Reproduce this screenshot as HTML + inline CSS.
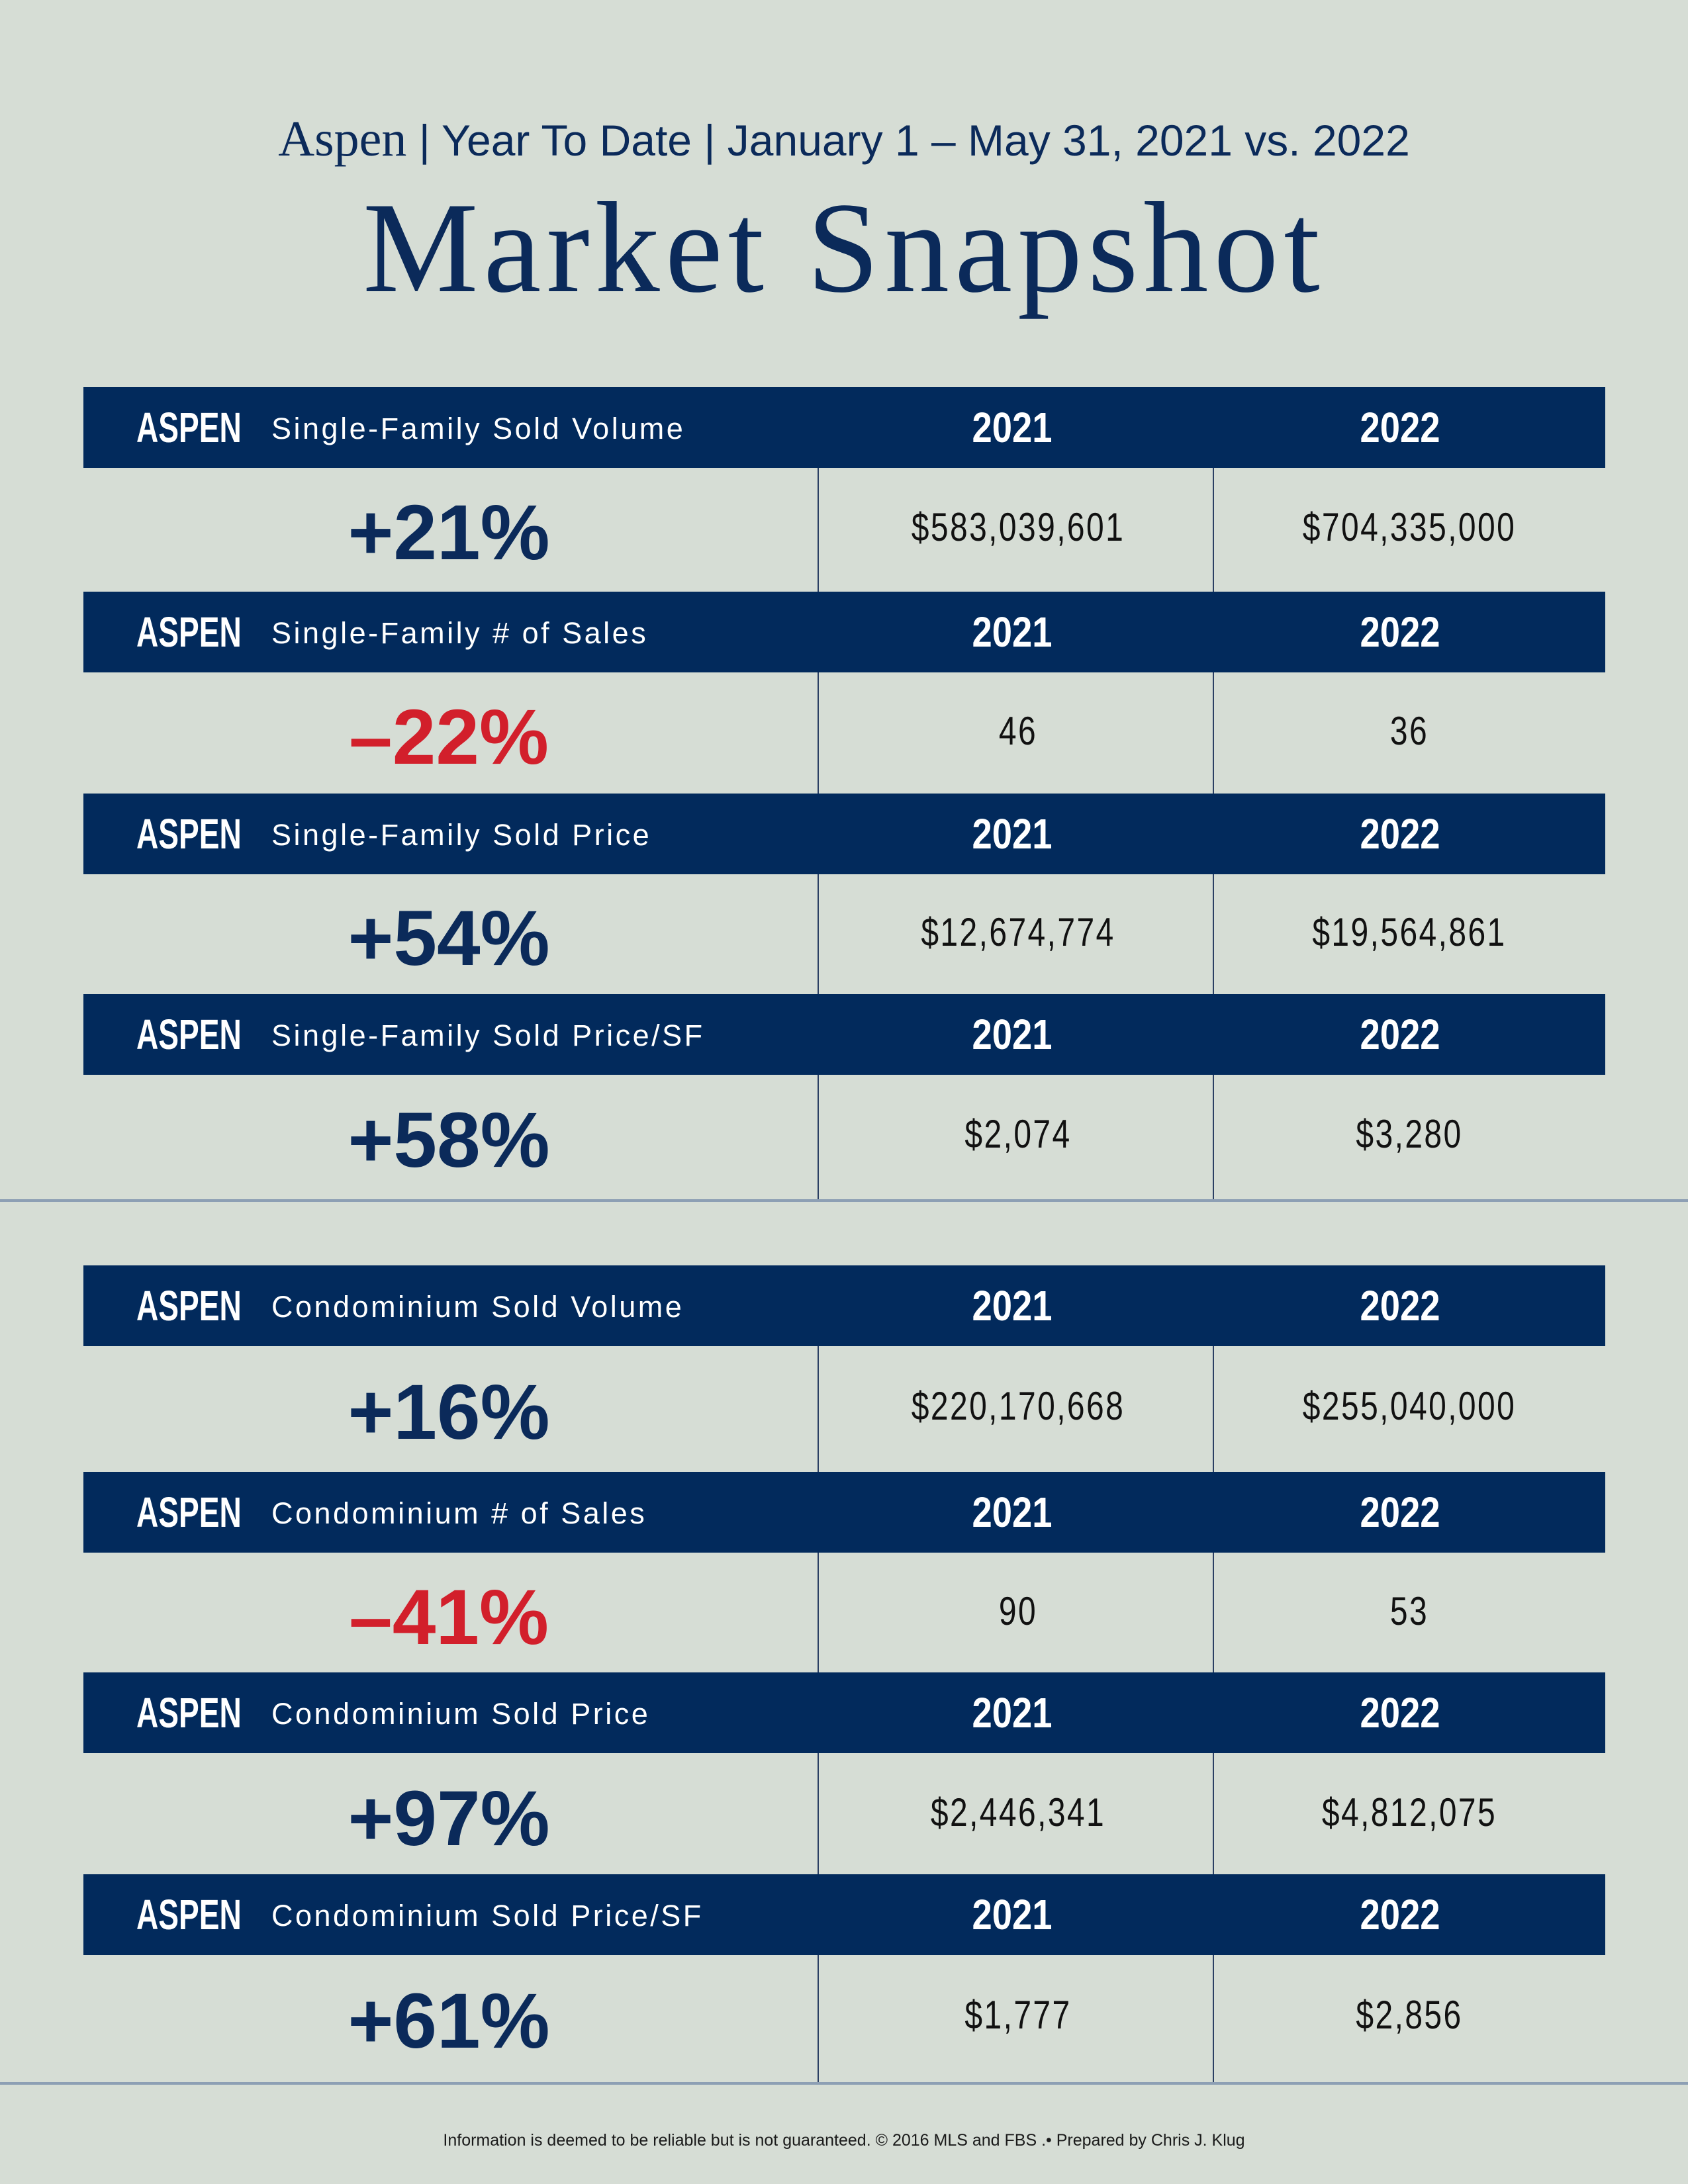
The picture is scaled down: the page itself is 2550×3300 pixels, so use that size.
<!DOCTYPE html>
<html><head><meta charset="utf-8"><style>
*{margin:0;padding:0;box-sizing:border-box}
body{width:2550px;height:3300px;background:#d6ddd5;position:relative;overflow:hidden;font-family:"Liberation Sans",sans-serif;color:#0b2a5a}
.a{position:absolute;white-space:nowrap}
.hdr{position:absolute;left:126px;width:2299px;height:122px;background:#022a5c}
.hdr .asp{position:absolute;left:80px;top:0;line-height:122px;font-weight:bold;font-size:64px;color:#fff;transform:scaleX(0.72);transform-origin:left center}
.hdr .lbl{position:absolute;left:284px;top:2px;line-height:122px;font-size:45px;letter-spacing:3.5px;color:#fff}
.hdr .y{position:absolute;top:0;line-height:122px;width:400px;text-align:center;font-weight:bold;font-size:64px;color:#fff;transform:scaleX(0.85)}
.pct{position:absolute;width:400px;text-align:center;font-weight:bold;font-size:118px;color:#0b2a5a}
.red{color:#d21f2b}
.v{position:absolute;width:560px;text-align:center;font-size:60px;letter-spacing:3px;color:#111;transform:scaleX(0.8)}
.vl{position:absolute;width:2px;background:#2b3f63}
.hl{position:absolute;left:0;width:2550px;height:4px;background:#8d9fb4}
</style></head><body>
<div class="a" style="left:0;width:2550px;text-align:center;top:168px;font-size:66px;line-height:84px;color:#0b2a5a"><span style="font-family:'Liberation Serif',serif;font-size:76px">Aspen</span> | Year To Date | January 1 – May 31, 2021 vs. 2022</div>
<div class="a" style="left:0;width:2550px;text-align:center;top:265px;font-family:'Liberation Serif',serif;font-size:196px;line-height:220px;letter-spacing:8px;color:#0b2a5a">Market Snapshot</div>

<div class="vl" style="left:1235px;top:703px;height:1111px"></div>
<div class="vl" style="left:1832px;top:703px;height:1111px"></div>
<div class="vl" style="left:1235px;top:2034px;height:1114px"></div>
<div class="vl" style="left:1832px;top:2034px;height:1114px"></div>
<div class="hl" style="top:1812px"></div>
<div class="hl" style="top:3146px"></div>

<div class="hdr" style="top:585px"><span class="asp">ASPEN</span><span class="lbl">Single-Family Sold Volume</span><span class="y" style="left:1203px">2021</span><span class="y" style="left:1789px">2022</span></div>
<div class="pct" style="left:478px;top:737px">+21%</div>
<div class="v" style="left:1258px;top:762px">$583,039,601</div>
<div class="v" style="left:1849px;top:762px">$704,335,000</div>

<div class="hdr" style="top:894px"><span class="asp">ASPEN</span><span class="lbl">Single-Family # of Sales</span><span class="y" style="left:1203px">2021</span><span class="y" style="left:1789px">2022</span></div>
<div class="pct red" style="left:478px;top:1046px">–22%</div>
<div class="v" style="left:1258px;top:1070px">46</div>
<div class="v" style="left:1849px;top:1070px">36</div>

<div class="hdr" style="top:1199px"><span class="asp">ASPEN</span><span class="lbl">Single-Family Sold Price</span><span class="y" style="left:1203px">2021</span><span class="y" style="left:1789px">2022</span></div>
<div class="pct" style="left:478px;top:1350px">+54%</div>
<div class="v" style="left:1258px;top:1374px">$12,674,774</div>
<div class="v" style="left:1849px;top:1374px">$19,564,861</div>

<div class="hdr" style="top:1502px"><span class="asp">ASPEN</span><span class="lbl">Single-Family Sold Price/SF</span><span class="y" style="left:1203px">2021</span><span class="y" style="left:1789px">2022</span></div>
<div class="pct" style="left:478px;top:1655px">+58%</div>
<div class="v" style="left:1258px;top:1679px">$2,074</div>
<div class="v" style="left:1849px;top:1679px">$3,280</div>

<div class="hdr" style="top:1912px"><span class="asp">ASPEN</span><span class="lbl">Condominium Sold Volume</span><span class="y" style="left:1203px">2021</span><span class="y" style="left:1789px">2022</span></div>
<div class="pct" style="left:478px;top:2066px">+16%</div>
<div class="v" style="left:1258px;top:2090px">$220,170,668</div>
<div class="v" style="left:1849px;top:2090px">$255,040,000</div>

<div class="hdr" style="top:2224px"><span class="asp">ASPEN</span><span class="lbl">Condominium # of Sales</span><span class="y" style="left:1203px">2021</span><span class="y" style="left:1789px">2022</span></div>
<div class="pct red" style="left:478px;top:2376px">–41%</div>
<div class="v" style="left:1258px;top:2400px">90</div>
<div class="v" style="left:1849px;top:2400px">53</div>

<div class="hdr" style="top:2527px"><span class="asp">ASPEN</span><span class="lbl">Condominium Sold Price</span><span class="y" style="left:1203px">2021</span><span class="y" style="left:1789px">2022</span></div>
<div class="pct" style="left:478px;top:2680px">+97%</div>
<div class="v" style="left:1258px;top:2704px">$2,446,341</div>
<div class="v" style="left:1849px;top:2704px">$4,812,075</div>

<div class="hdr" style="top:2832px"><span class="asp">ASPEN</span><span class="lbl">Condominium Sold Price/SF</span><span class="y" style="left:1203px">2021</span><span class="y" style="left:1789px">2022</span></div>
<div class="pct" style="left:478px;top:2986px">+61%</div>
<div class="v" style="left:1258px;top:3010px">$1,777</div>
<div class="v" style="left:1849px;top:3010px">$2,856</div>

<div class="a" style="left:0;width:2550px;text-align:center;top:3220px;font-size:25px;color:#1a1a1a">Information is deemed to be reliable but is not guaranteed. © 2016 MLS and FBS .• Prepared by Chris J. Klug</div>
</body></html>
